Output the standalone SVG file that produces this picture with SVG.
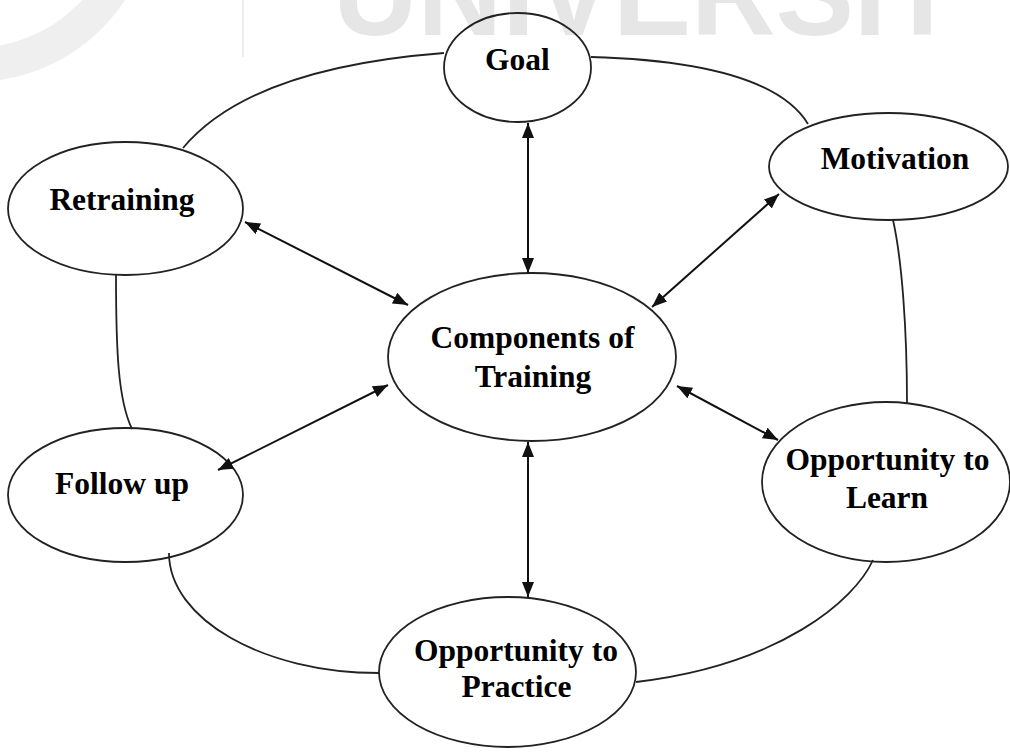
<svg xmlns="http://www.w3.org/2000/svg" width="1010" height="752" viewBox="0 0 1010 752">
  <defs>
    <style>
      .node { fill: none; stroke: #222222; stroke-width: 1.8; }
      .label { font-family: "Liberation Serif", "Times New Roman", serif; font-weight: bold; font-size: 31.5px; fill: #000000; text-anchor: middle; }
      .link { fill: none; stroke: #222222; stroke-width: 1.8; }
      .arrow { fill: none; stroke: #111111; stroke-width: 2; marker-start: url(#head); marker-end: url(#head); }
      .mark { font-family: "Liberation Sans", Arial, sans-serif; font-weight: bold; font-size: 120px; fill: #e6e6e6; }
    </style>
    <marker id="head" viewBox="0 0 15 12" refX="15" refY="6" markerWidth="15" markerHeight="12" markerUnits="userSpaceOnUse" orient="auto-start-reverse">
      <path d="M0,0 L15,6 L0,12 Z" fill="#111111"/>
    </marker>
  </defs>

  <rect width="1010" height="752" fill="#ffffff"/>

  <!-- background watermark -->
  <g id="watermark">
    <circle cx="-27" cy="-100" r="165" fill="none" stroke="#efefef" stroke-width="34"/>
    <line x1="243" y1="0" x2="243" y2="57" stroke="#dddddd" stroke-width="1"/>
    <text class="mark" x="333" y="35" textLength="625" lengthAdjust="spacingAndGlyphs">UNIVERSIT</text>
  </g>

  <g id="goal">
    <ellipse class="node" cx="517.5" cy="67.5" rx="73.5" ry="54.5"/>
    <text class="label" x="517.5" y="70">Goal</text>
  </g>

  <g id="retraining">
    <ellipse class="node" cx="125.5" cy="208.5" rx="117.5" ry="66.5"/>
    <text class="label" x="122" y="210">Retraining</text>
  </g>

  <g id="motivation">
    <ellipse class="node" cx="888.5" cy="166.5" rx="119.5" ry="53.5"/>
    <text class="label" x="895" y="169">Motivation</text>
  </g>

  <g id="components">
    <ellipse class="node" cx="532" cy="357" rx="144" ry="84"/>
    <text class="label" x="532.5" y="348">Components of</text>
    <text class="label" x="533" y="387">Training</text>
  </g>

  <g id="follow-up">
    <ellipse class="node" cx="125.5" cy="495" rx="117.5" ry="67"/>
    <text class="label" x="122" y="494">Follow up</text>
  </g>

  <g id="learn">
    <ellipse class="node" cx="886" cy="482" rx="124" ry="80"/>
    <text class="label" x="887.5" y="470">Opportunity to</text>
    <text class="label" x="887" y="508">Learn</text>
  </g>

  <g id="practice">
    <ellipse class="node" cx="507.5" cy="672" rx="128.5" ry="75"/>
    <text class="label" x="516" y="661">Opportunity to</text>
    <text class="label" x="516.5" y="697">Practice</text>
  </g>

  <!-- connectors -->
  <g id="connectors">
    <!-- outer ring -->
    <path class="link" d="M444,53 Q250,68 183,148"/>
    <path class="link" d="M591,57 Q770,62 808,124"/>
    <path class="link" d="M116,275 C116,350 118,400 132,429"/>
    <path class="link" d="M893,220 C902,260 907,330 907,403"/>
    <path class="link" d="M169,553 C169,619 263,673 379,673"/>
    <path class="link" d="M873,560 C855,600 780,665 636,682"/>
    <!-- spokes -->
    <line class="arrow" x1="528" y1="123" x2="528" y2="273"/>
    <line class="arrow" x1="245" y1="222" x2="408" y2="305"/>
    <line class="arrow" x1="779" y1="194" x2="652" y2="307"/>
    <line class="arrow" x1="677" y1="386" x2="778" y2="440"/>
    <line class="arrow" x1="218" y1="470" x2="388" y2="385"/>
    <line class="arrow" x1="528" y1="442" x2="528" y2="597"/>
  </g>
</svg>
